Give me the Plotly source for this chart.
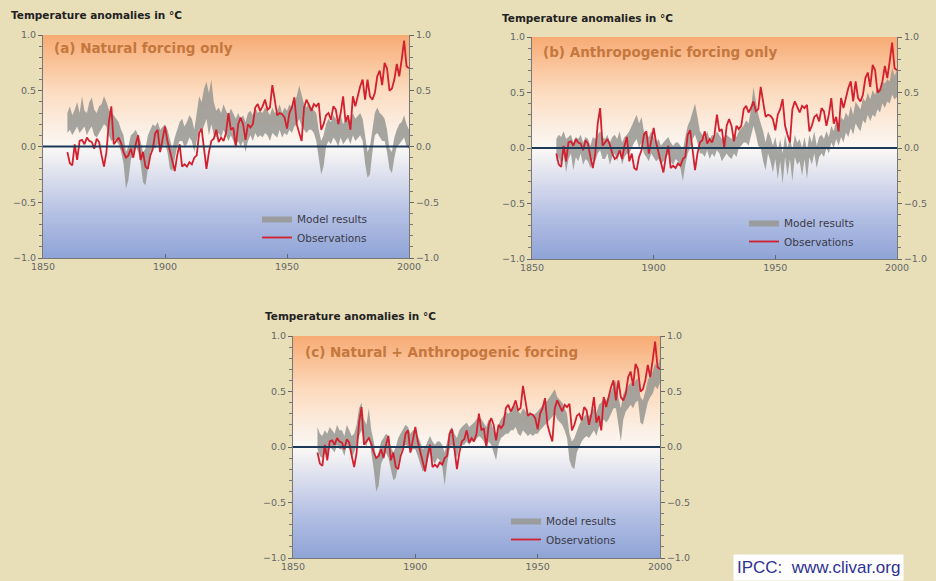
import plotly.graph_objects as go

years = list(range(1860, 2001))

observations = [
    -0.05, -0.15, -0.17, 0.02, -0.12, 0.05, 0.06, 0.02, 0.08, 0.05,
    0.04, -0.02, 0.07, 0.04, -0.08, -0.18, -0.05, 0.22, 0.36, 0.02,
    0.05, 0.08, 0.03, -0.05, -0.10, -0.08, -0.02, -0.10, 0.02, 0.10,
    -0.12, -0.05, -0.18, -0.20, -0.08, -0.02, 0.12, 0.15, -0.05, 0.08,
    0.18, 0.05, -0.05, -0.15, -0.22, -0.08, 0.02, -0.18, -0.16, -0.18,
    -0.14, -0.16, -0.10, -0.08, 0.12, 0.16, -0.05, -0.20, -0.05, 0.05,
    0.07, 0.15, 0.04, 0.08, 0.05, 0.12, 0.30, 0.15, 0.17, 0.00,
    0.20, 0.26, 0.20, 0.06, 0.20, 0.17, 0.20, 0.35, 0.38, 0.32,
    0.36, 0.42, 0.33, 0.35, 0.55, 0.40, 0.28, 0.30, 0.29, 0.26,
    0.16, 0.30, 0.35, 0.44, 0.20, 0.12, 0.05, 0.35, 0.42, 0.37,
    0.32, 0.38, 0.36, 0.39, 0.15, 0.20, 0.28, 0.30, 0.24, 0.36,
    0.33, 0.20, 0.30, 0.45, 0.22, 0.28, 0.15, 0.45, 0.36, 0.45,
    0.54, 0.60, 0.42, 0.60, 0.45, 0.42, 0.48, 0.63, 0.68, 0.55,
    0.75, 0.70, 0.50, 0.52, 0.60, 0.74, 0.63, 0.78, 0.95, 0.72,
    0.70,
]

# (a) natural forcing only
natural_high = [
    0.30, 0.36, 0.28, 0.33, 0.40, 0.30, 0.45, 0.32, 0.30, 0.40,
    0.44, 0.33, 0.30, 0.36, 0.38, 0.45, 0.40, 0.33, 0.30, 0.28,
    0.25, 0.22, 0.15, 0.10, -0.05, 0.00, 0.10, 0.12, 0.15, 0.10,
    0.05, -0.05, -0.02, 0.10, 0.15, 0.20, 0.18, 0.22, 0.15, 0.18,
    0.20, 0.15, 0.05, -0.02, 0.08, 0.15, 0.22, 0.25, 0.18, 0.22,
    0.28, 0.25, 0.15, 0.30, 0.45, 0.40, 0.52, 0.58, 0.48, 0.60,
    0.40, 0.32, 0.35, 0.30, 0.38, 0.32, 0.28, 0.34, 0.30, 0.25,
    0.30, 0.25, 0.28, 0.22, 0.30, 0.32, 0.28, 0.35, 0.30, 0.32,
    0.30, 0.35, 0.32, 0.28, 0.35, 0.30, 0.32, 0.38, 0.30, 0.35,
    0.32, 0.38, 0.35, 0.40, 0.45, 0.55, 0.45, 0.38, 0.35, 0.40,
    0.35, 0.32, 0.30, 0.15, 0.05, 0.10, 0.20, 0.25, 0.22, 0.28,
    0.25, 0.22, 0.28, 0.20, 0.25, 0.28, 0.22, 0.30, 0.25, 0.28,
    0.30, 0.25, 0.10, -0.05, 0.00, 0.15, 0.30, 0.35, 0.30, 0.28,
    0.25, 0.15, -0.02, -0.05, 0.08, 0.15, 0.20, 0.22, 0.28, 0.20,
    0.15,
]
natural_low = [
    0.12, 0.15, 0.10, 0.14, 0.18, 0.12, 0.15, 0.18, 0.10, 0.15,
    0.18, 0.10, 0.08, 0.12, 0.15, 0.20, 0.18, 0.10, 0.05, 0.06,
    0.05, 0.02, -0.05, -0.15, -0.38, -0.30, -0.12, -0.05, 0.00, -0.05,
    -0.15, -0.32, -0.35, -0.20, -0.05, 0.00, -0.02, 0.02, -0.05, 0.00,
    0.02, -0.05, -0.20, -0.22, -0.10, 0.00, 0.05, 0.05, 0.00, 0.02,
    0.08, 0.05, -0.05, 0.05, 0.15, 0.12, 0.18, 0.25, 0.10, 0.20,
    0.10, 0.08, 0.12, 0.08, 0.15, 0.10, 0.05, 0.10, 0.05, 0.00,
    0.05, 0.00, 0.05, -0.05, 0.05, 0.10, 0.05, 0.12, 0.08, 0.10,
    0.08, 0.12, 0.10, 0.05, 0.12, 0.10, 0.08, 0.15, 0.08, 0.12,
    0.10, 0.15, 0.12, 0.18, 0.20, 0.25, 0.18, 0.15, 0.12, 0.15,
    0.15, 0.12, 0.05, -0.10, -0.25, -0.18, 0.00, 0.05, 0.02, 0.08,
    0.05, 0.00, 0.08, 0.02, 0.05, 0.08, 0.02, 0.10, 0.05, 0.08,
    0.10, 0.05, -0.15, -0.28, -0.25, -0.05, 0.10, 0.12, 0.08, 0.05,
    0.05, -0.05, -0.20, -0.24, -0.10, 0.00, 0.02, 0.05, 0.08, 0.00,
    -0.02,
]

# (b) anthropogenic forcing only
anthro_high = [
    0.08, 0.12, 0.10, 0.15, 0.08, 0.10, 0.12, 0.05, 0.10, 0.08,
    0.12, 0.05, 0.10, 0.08, 0.02, 0.10, 0.08, 0.12, 0.15, 0.10,
    0.08, 0.12, 0.05, 0.10, 0.12, 0.08, 0.15, 0.05, 0.10, 0.12,
    0.15, 0.20, 0.25, 0.30, 0.22, 0.28, 0.15, 0.12, 0.10, 0.15,
    0.10, 0.05, 0.08, 0.02, 0.05, 0.08, 0.10, 0.05, 0.02, 0.05,
    0.05, 0.02, -0.02, 0.10, 0.20, 0.25, 0.32, 0.40, 0.28, 0.15,
    0.12, 0.10, 0.15, 0.08, 0.12, 0.10, 0.15, 0.12, 0.08, 0.10,
    0.12, 0.10, 0.08, 0.12, 0.10, 0.15, 0.18, 0.20, 0.25, 0.22,
    0.35, 0.55, 0.42, 0.30, 0.22, 0.15, 0.05, 0.15, 0.10, 0.02,
    0.10, -0.02, 0.08, -0.05, 0.12, 0.00, 0.10, -0.02, 0.12, 0.05,
    0.08, 0.00, 0.10, -0.02, 0.12, 0.05, 0.15, 0.02, 0.10, 0.12,
    0.08, 0.15, 0.10, 0.20, 0.15, 0.25, 0.20, 0.28, 0.25, 0.32,
    0.28, 0.38, 0.30, 0.42, 0.38, 0.35, 0.45, 0.42, 0.50, 0.44,
    0.52, 0.48, 0.55, 0.52, 0.60, 0.58, 0.62, 0.60, 0.72, 0.65,
    0.70,
]
anthro_low = [
    -0.12, -0.08, -0.15, -0.05, -0.22, -0.10, -0.05, -0.20, -0.08, -0.12,
    -0.05, -0.15, -0.10, -0.12, -0.18, -0.10, -0.12, -0.05, -0.02, -0.10,
    -0.10, -0.05, -0.15, -0.08, -0.05, -0.12, -0.02, -0.15, -0.08, -0.05,
    -0.05, 0.00, 0.05, 0.08, 0.00, 0.05, -0.05, -0.08, -0.12, -0.05,
    -0.08, -0.12, -0.10, -0.15, -0.12, -0.10, -0.05, -0.12, -0.15, -0.10,
    -0.12, -0.18, -0.30, -0.15, -0.05, 0.00, 0.08, 0.12, 0.05, -0.05,
    -0.05, -0.08, -0.02, -0.10, -0.05, -0.08, -0.02, -0.05, -0.12, -0.08,
    -0.05, -0.08, -0.10, -0.05, -0.08, 0.00, 0.02, 0.05, 0.05, 0.02,
    0.10, 0.20, 0.12, 0.02, 0.00, -0.12, -0.20, -0.05, -0.12, -0.22,
    -0.10, -0.28, -0.12, -0.32, -0.08, -0.25, -0.10, -0.30, -0.08, -0.15,
    -0.12, -0.25, -0.10, -0.28, -0.08, -0.15, -0.05, -0.18, -0.08, -0.05,
    -0.08, 0.00, -0.05, 0.05, 0.00, 0.08, 0.02, 0.10, 0.05, 0.14,
    0.10, 0.18, 0.12, 0.22, 0.18, 0.15, 0.25, 0.22, 0.30, 0.24,
    0.30, 0.28, 0.35, 0.32, 0.40, 0.36, 0.42, 0.40, 0.48, 0.44,
    0.46,
]

# (c) natural + anthropogenic forcing
combined_high = [
    0.18, 0.12, 0.10, 0.15, 0.12, 0.18, 0.15, 0.12, 0.20, 0.15,
    0.15, 0.10, 0.20, 0.15, 0.10, 0.12, 0.20, 0.35, 0.40, 0.25,
    0.20, 0.35, 0.15, 0.05, -0.10, -0.05, 0.05, 0.08, 0.12, 0.10,
    0.00, -0.05, 0.00, 0.08, 0.12, 0.15, 0.20, 0.18, 0.12, 0.15,
    0.15, 0.10, 0.05, -0.02, 0.00, 0.05, 0.10, 0.05, 0.02, 0.05,
    0.05, 0.02, -0.05, 0.05, 0.15, 0.18, 0.12, 0.08, 0.15, 0.18,
    0.20, 0.22, 0.18, 0.20, 0.22, 0.25, 0.28, 0.25, 0.22, 0.18,
    0.25, 0.22, 0.15, 0.10, 0.20, 0.25, 0.28, 0.32, 0.30, 0.32,
    0.35, 0.38, 0.32, 0.30, 0.35, 0.32, 0.30, 0.32, 0.28, 0.30,
    0.32, 0.35, 0.38, 0.40, 0.42, 0.45, 0.48, 0.52, 0.45, 0.42,
    0.40, 0.35, 0.30, 0.12, 0.05, 0.08, 0.15, 0.20, 0.25, 0.28,
    0.30, 0.28, 0.32, 0.35, 0.30, 0.38, 0.40, 0.45, 0.42, 0.45,
    0.50, 0.55, 0.60, 0.45, 0.35, 0.48, 0.52, 0.55, 0.58, 0.55,
    0.60, 0.62, 0.45, 0.42, 0.50, 0.60, 0.65, 0.68, 0.75, 0.72,
    0.80,
]
combined_low = [
    -0.02, -0.08, -0.10, -0.05, -0.10, 0.00, -0.02, -0.05, 0.02, -0.02,
    -0.02, -0.08, 0.02, -0.02, -0.10, -0.05, 0.02, 0.10, 0.15, 0.05,
    0.00, 0.10, -0.05, -0.20, -0.40, -0.35, -0.15, -0.10, -0.05, -0.10,
    -0.20, -0.30, -0.28, -0.15, -0.05, 0.00, 0.02, 0.00, -0.05, -0.02,
    -0.02, -0.08, -0.15, -0.22, -0.20, -0.12, -0.05, -0.12, -0.15, -0.10,
    -0.12, -0.18, -0.35, -0.15, -0.02, 0.02, -0.05, -0.10, 0.00, 0.02,
    0.02, 0.05, 0.02, 0.05, 0.05, 0.08, 0.10, 0.08, 0.05, 0.00,
    0.05, 0.02, -0.05, -0.12, 0.02, 0.08, 0.10, 0.12, 0.12, 0.15,
    0.15, 0.18, 0.12, 0.10, 0.15, 0.12, 0.10, 0.12, 0.10, 0.12,
    0.12, 0.15, 0.18, 0.20, 0.22, 0.25, 0.28, 0.30, 0.25, 0.22,
    0.20, 0.15, 0.08, -0.12, -0.18, -0.20, -0.05, 0.00, 0.05, 0.08,
    0.10, 0.08, 0.12, 0.15, 0.10, 0.18, 0.20, 0.25, 0.22, 0.25,
    0.30, 0.35, 0.35, 0.20, 0.05, 0.25, 0.32, 0.35, 0.38, 0.35,
    0.40, 0.42, 0.22, 0.20, 0.30, 0.40, 0.45, 0.48, 0.55, 0.52,
    0.58,
]

panel_labels = ["(a) Natural forcing only", "(b) Anthropogenic forcing only",
                "(c) Natural + Anthropogenic forcing"]
y_title = "Temperature anomalies in °C"
x_ticks = [1850, 1900, 1950, 2000]
y_ticks = [-1.0, -0.5, 0.0, 0.5, 1.0]

W, H = 936, 581
BG = "#e8dfb9"
GRAY = "rgba(150,150,146,0.85)"
RED = "#d2202e"
FONT = "Liberation Sans, Arial, sans-serif"
WIDE = "DejaVu Sans, Verdana, sans-serif"

# pixel boxes of the plotting areas: (left, right, top, bottom)
boxes = [(43, 409, 35, 258), (532, 897, 37, 259), (293, 660, 336, 558)]
legend_pos = [(257, 204), (744, 208), (506, 506)]
title_pos = [(9, 15), (500, 18), (263, 316)]
label_pos = [(52, 48), (541, 52), (303, 352)]
models = [(natural_low, natural_high), (anthro_low, anthro_high),
          (combined_low, combined_high)]

grad_scale = [[0.0, "#8ea3d6"], [0.2, "#b4c0e4"], [0.5, "#fbf8f5"],
              [0.75, "#fcdcc0"], [1.0, "#f7ab74"]]

fig = go.Figure()
legend_names = ["legend", "legend2", "legend3"]

for i in range(3):
    xa = "x" if i == 0 else f"x{i+1}"
    ya = "y" if i == 0 else f"y{i+1}"
    yr = f"y{i+4}"
    lo, hi = models[i]
    fig.add_trace(go.Heatmap(x=[x_ticks[0], x_ticks[-1]], y=[y_ticks[0], y_ticks[-1]],
                             z=[[-1, -1], [1, 1]], zmin=-1, zmax=1,
                             colorscale=grad_scale, zsmooth="best", showscale=False,
                             hoverinfo="skip", xaxis=xa, yaxis=ya))
    fig.add_trace(go.Scatter(x=years, y=lo, mode="lines", line=dict(width=0, color=GRAY),
                             showlegend=False, hoverinfo="skip", xaxis=xa, yaxis=ya,
                             legend=legend_names[i]))
    fig.add_trace(go.Scatter(x=years, y=hi, mode="lines", line=dict(width=0, color=GRAY),
                             fill="tonexty", fillcolor=GRAY, name="Model results",
                             xaxis=xa, yaxis=ya, legend=legend_names[i]))
    fig.add_trace(go.Scatter(x=years, y=observations, mode="lines",
                             line=dict(width=1.8, color=RED), name="Observations",
                             xaxis=xa, yaxis=ya, legend=legend_names[i]))
    fig.add_trace(go.Scatter(x=years, y=observations, mode="lines", opacity=0,
                             line=dict(width=0), showlegend=False, hoverinfo="skip",
                             xaxis=xa, yaxis=yr))

    L, R, T, B = boxes[i]
    xdom = [L / W, R / W]
    ydom = [1 - B / H, 1 - T / H]
    axfont = dict(family=WIDE, size=9.5, color="#666")
    xkey = "xaxis" if i == 0 else f"xaxis{i+1}"
    ykey = "yaxis" if i == 0 else f"yaxis{i+1}"
    fig.layout[xkey] = dict(domain=xdom, range=[x_ticks[0], x_ticks[-1]], anchor=ya,
                            tickvals=x_ticks, ticks="inside", ticklen=4, tickcolor="#666",
                            showline=True, linecolor="#777", linewidth=1, showgrid=False,
                            zeroline=False, tickfont=axfont, fixedrange=True,
                            automargin=False)
    common_y = dict(domain=ydom, range=[-1, 1], tickvals=y_ticks, tickformat=".1f",
                    ticks="outside", ticklen=4, tickcolor="#666",
                    minor=dict(dtick=0.1, ticklen=3, tickcolor="#777", ticks="outside"),
                    showline=True, linecolor="#777", linewidth=1, showgrid=False,
                    zeroline=False, tickfont=axfont, fixedrange=True, automargin=False)
    fig.layout[ykey] = dict(common_y, anchor=xa, side="left")
    fig.layout[f"yaxis{i+4}"] = dict(common_y, anchor=xa, side="right", overlaying=ya)

    fig.add_shape(type="line", xref=f"{xa} domain", yref=ya, x0=0, x1=1, y0=0, y1=0,
                  line=dict(color="#1c3958", width=2))

    lx, ly = legend_pos[i]
    fig.layout[legend_names[i]] = dict(x=lx / W, y=1 - ly / H, xanchor="left", yanchor="top",
                                       bgcolor="rgba(0,0,0,0)", traceorder="normal",
                                       font=dict(family=WIDE, size=10.5, color="#3a3a48"),
                                       itemwidth=30, tracegroupgap=0)

    tx, ty = title_pos[i]
    fig.add_annotation(text=f"<b>{y_title}</b>", x=tx / W, y=1 - ty / H, xref="paper",
                       yref="paper", xanchor="left", yanchor="middle", showarrow=False,
                       font=dict(family=WIDE, size=10.5, color="#222"))
    px, py = label_pos[i]
    fig.add_annotation(text=f"<b>{panel_labels[i]}</b>", x=px / W, y=1 - py / H,
                       xref="paper", yref="paper", xanchor="left", yanchor="middle",
                       showarrow=False, font=dict(family=WIDE, size=13.5, color="#c5773e"))

fig.add_annotation(text="IPCC:\u00a0 www.clivar.org", x=818 / W, y=1 - 567 / H,
                   xref="paper", yref="paper", xanchor="center", yanchor="middle",
                   showarrow=False, bgcolor="white", borderpad=3,
                   font=dict(family=FONT, size=17, color="#2e3192"))

fig.update_layout(width=W, height=H,
                  margin=dict(l=0, r=0, t=0, b=0, pad=0, autoexpand=False),
                  paper_bgcolor=BG, plot_bgcolor=BG, showlegend=True)

fig.write_html("out.html", config={"displayModeBar": False},
               post_script="document.documentElement.style.margin='0';"
                           "document.documentElement.style.overflow='hidden';"
                           "document.body.style.margin='0';"
                           "document.body.style.overflow='hidden';")
